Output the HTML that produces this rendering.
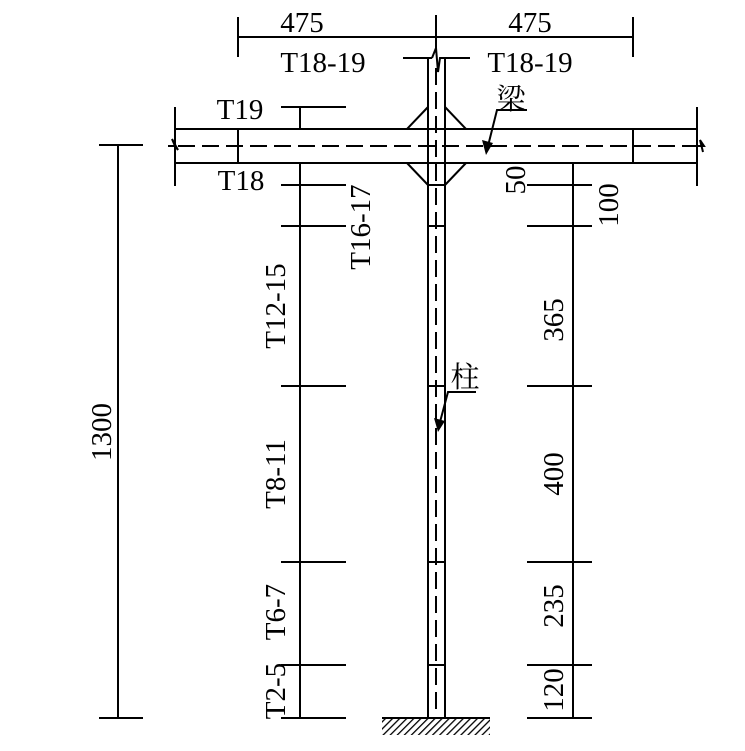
<!DOCTYPE html>
<html><head><meta charset="utf-8"><style>
html,body{margin:0;padding:0;background:#fff}
svg{display:block}
text{font-family:"Liberation Serif","Noto Serif CJK SC",serif;font-size:29px;fill:#000}
</style></head><body>
<svg width="745" height="751" viewBox="0 0 745 751" xmlns="http://www.w3.org/2000/svg">
<defs>
<pattern id="h" width="5" height="5" patternUnits="userSpaceOnUse" patternTransform="rotate(45)">
<rect width="5" height="5" fill="#fff"/><line x1="0" y1="0" x2="0" y2="5" stroke="#000" stroke-width="2.6"/>
</pattern>
</defs>
<g stroke="#000" stroke-width="2" fill="none">
<line x1="238" y1="37" x2="633" y2="37"/>
<line x1="238" y1="17" x2="238" y2="57"/>
<line x1="633" y1="17" x2="633" y2="57"/>
<line x1="436" y1="15" x2="436" y2="50"/>
<line x1="403" y1="58" x2="432" y2="58"/>
<polyline points="432,58 436,48 438,72 440,58 470,58"/>
<line x1="428" y1="58" x2="428" y2="718"/>
<line x1="445" y1="58" x2="445" y2="718"/>
<line x1="436" y1="68" x2="436" y2="716" stroke-dasharray="17,7"/>
<line x1="428" y1="185" x2="445" y2="185"/>
<line x1="428" y1="226" x2="445" y2="226"/>
<line x1="428" y1="386" x2="445" y2="386"/>
<line x1="428" y1="562" x2="445" y2="562"/>
<line x1="428" y1="665" x2="445" y2="665"/>
<line x1="175" y1="129" x2="697" y2="129"/>
<line x1="175" y1="163" x2="697" y2="163"/>
<line x1="178" y1="146" x2="697" y2="146" stroke-dasharray="17,7"/>
<line x1="175" y1="107" x2="175" y2="186"/>
<line x1="697" y1="107" x2="697" y2="186"/>
<polyline points="168,146 175,146 172,139 178,150 175,146"/>
<polyline points="697,146 704,146 700,140 703,152"/>
<line x1="238" y1="129" x2="238" y2="163"/>
<line x1="633" y1="129" x2="633" y2="163"/>
<polyline points="407,129 428,107"/>
<polyline points="445,107 466,129"/>
<polyline points="407,163 428,185"/>
<polyline points="445,185 466,163"/>
<line x1="300" y1="107" x2="300" y2="129"/>
<line x1="300" y1="163" x2="300" y2="718"/>
<line x1="281" y1="107" x2="346" y2="107"/>
<line x1="281" y1="185" x2="346" y2="185"/>
<line x1="281" y1="226" x2="346" y2="226"/>
<line x1="281" y1="386" x2="346" y2="386"/>
<line x1="281" y1="562" x2="346" y2="562"/>
<line x1="281" y1="665" x2="346" y2="665"/>
<line x1="281" y1="718" x2="346" y2="718"/>
<line x1="573" y1="163" x2="573" y2="718"/>
<line x1="527" y1="185" x2="592" y2="185"/>
<line x1="527" y1="226" x2="592" y2="226"/>
<line x1="527" y1="386" x2="592" y2="386"/>
<line x1="527" y1="562" x2="592" y2="562"/>
<line x1="527" y1="665" x2="592" y2="665"/>
<line x1="527" y1="718" x2="592" y2="718"/>
<line x1="118" y1="145" x2="118" y2="718"/>
<line x1="99" y1="145" x2="143" y2="145"/>
<line x1="99" y1="718" x2="143" y2="718"/>
<polyline points="527,110 497,110 488,146"/>
<polyline points="476,392 448,392 440,422"/>
</g>
<polygon points="486,155 482,140 493,143" fill="#000"/>
<polygon points="438,432 434,418 445,421" fill="#000"/>
<rect x="382" y="718" width="108" height="17" fill="url(#h)"/>
<line x1="382" y1="718" x2="490" y2="718" stroke="#000" stroke-width="2"/>
<text x="302" y="32" text-anchor="middle">475</text>
<text x="530" y="32" text-anchor="middle">475</text>
<text x="323" y="72" text-anchor="middle">T18-19</text>
<text x="530" y="72" text-anchor="middle">T18-19</text>
<text x="240" y="119" text-anchor="middle">T19</text>
<text x="241" y="190" text-anchor="middle">T18</text>
<text x="511" y="109" text-anchor="middle">梁</text>
<text x="465" y="387" text-anchor="middle">柱</text>
<text transform="translate(370,227) rotate(-90)" text-anchor="middle">T16-17</text>
<text transform="translate(285,306) rotate(-90)" text-anchor="middle">T12-15</text>
<text transform="translate(285,474) rotate(-90)" text-anchor="middle">T8-11</text>
<text transform="translate(285,612) rotate(-90)" text-anchor="middle">T6-7</text>
<text transform="translate(285,691) rotate(-90)" text-anchor="middle">T2-5</text>
<text transform="translate(111,432) rotate(-90)" text-anchor="middle">1300</text>
<text transform="translate(525,180) rotate(-90)" text-anchor="middle">50</text>
<text transform="translate(618,205) rotate(-90)" text-anchor="middle">100</text>
<text transform="translate(563,320) rotate(-90)" text-anchor="middle">365</text>
<text transform="translate(563,474) rotate(-90)" text-anchor="middle">400</text>
<text transform="translate(563,606) rotate(-90)" text-anchor="middle">235</text>
<text transform="translate(563,690) rotate(-90)" text-anchor="middle">120</text>
</svg>
</body></html>
